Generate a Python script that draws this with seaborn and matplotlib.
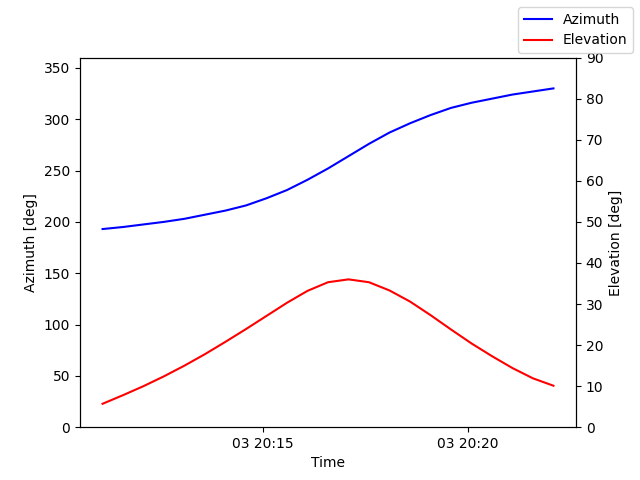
import matplotlib
matplotlib.use("Agg")
import matplotlib.pyplot as plt
import matplotlib.dates as mdates
import seaborn as sns
import pandas as pd

times = pd.date_range("2024-01-03 20:11:05", periods=23, freq="30s")
azimuth = [193, 195, 197.5, 200, 203, 207, 211, 216, 223, 231, 241, 252, 264, 276, 287, 296, 304, 311, 316, 320, 324, 327, 330]
elevation = [5.7, 7.8, 10.0, 12.4, 15.0, 17.8, 20.8, 23.9, 27.1, 30.3, 33.2, 35.3, 36.0, 35.3, 33.3, 30.6, 27.3, 23.8, 20.4, 17.3, 14.4, 11.9, 10.1]

df = pd.DataFrame({"Time": times, "Azimuth": azimuth, "Elevation": elevation})

fig, ax = plt.subplots(figsize=(6.4, 4.8), dpi=100)
sns.lineplot(data=df, x="Time", y="Azimuth", ax=ax, color="blue", label="Azimuth", legend=False)
ax2 = ax.twinx()
sns.lineplot(data=df, x="Time", y="Elevation", ax=ax2, color="red", label="Elevation", legend=False)
ax.set_ylim(0, 360)
ax2.set_ylim(0, 90)
ax.set_xlabel("Time")
ax.set_ylabel("Azimuth [deg]")
ax2.set_ylabel("Elevation [deg]")
ax.xaxis.set_major_locator(mdates.MinuteLocator(byminute=[15, 20]))
ax.xaxis.set_major_formatter(mdates.DateFormatter("%d %H:%M"))
fig.legend(loc="upper right")
fig.savefig("out.png")
